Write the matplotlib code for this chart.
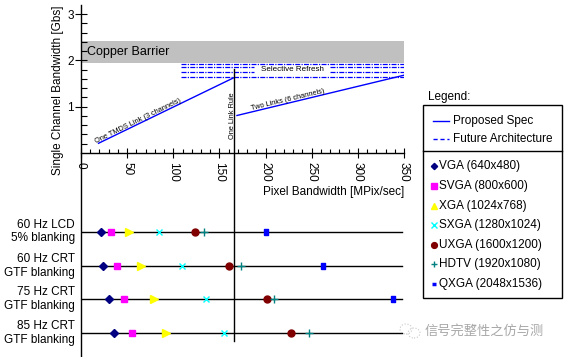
import numpy as np
import matplotlib
matplotlib.use("Agg")
import matplotlib.pyplot as plt
from matplotlib.lines import Line2D
from matplotlib.patches import Rectangle, Ellipse

plt.rcParams['font.family'] = ['Liberation Sans', 'DejaVu Sans']

# Datos del panel superior
tmds_x = [19, 166]
tmds_y = [0.21, 1.63]
two_links_x = [169, 350]
two_links_y = [0.81, 1.68]
copper_lo, copper_hi = 1.95, 2.42
refresh_y = [1.93, 1.85, 1.75, 1.64]
refresh_x0 = 108
refresh_gap = (188, 270)
link_rule_x = 165.5
link_rule_top = 1.81

# Datos del panel inferior (MPix/sec)
rows = ["60 Hz LCD\n5% blanking", "60 Hz CRT\nGTF blanking",
        "75 Hz CRT\nGTF blanking", "85 Hz CRT\nGTF blanking"]
row_y = [-1.70, -2.44, -3.15, -3.89]
formats = ["VGA (640x480)", "SVGA (800x600)", "XGA (1024x768)", "SXGA (1280x1024)",
           "UXGA (1600x1200)", "HDTV (1920x1080)", "QXGA (2048x1536)"]
vga  = [22.0, 23.5, 30.3, 35.8]
svga = [32.9, 39.3, 46.9, 55.6]
xga  = [52.3, 64.7, 78.8, 91.7]
sxga = [84.9, 109.1, 135.8, 155.3]
uxga = [123.5, 160.0, 201.5, 227.5]
hdtv = [133.6, 173.3, 209.4, 246.7]
qxga = [200.8, 262.5, 338.4, np.nan]

qx_marker = [(-1.5, -2.2), (1.5, -2.2), (1.5, 2.2), (-1.5, 2.2), (-1.5, -2.2)]
estilos = [
    dict(marker="D", color="#000080", ms=4.0),
    dict(marker="s", color="#ff00ff", ms=5.0),
    dict(marker=">", color="#ffff00", ms=5.5),
    dict(marker="x", color="#00ffff", ms=4.5, mew=1.0),
    dict(marker="o", color="#800000", ms=5.0),
    dict(marker="+", color="#008080", ms=6, mew=1.0),
    dict(marker=qx_marker, color="#0000ff", ms=4),
]
series = [vga, svga, xga, sxga, uxga, hdtv, qxga]

W, H = 567, 357
fig = plt.figure(figsize=(W / 100, H / 100), dpi=100)
ax = fig.add_axes([81 / W, 0, 323 / W, 1])
ax.set_xlim(0, 350)
ax.set_ylim(-(H - 153) / 46.3, 153 / 46.3)

for s in ["top", "right"]:
    ax.spines[s].set_visible(False)
ax.spines["bottom"].set_position(("data", 0))
ax.spines["left"].set_bounds(-4.6, 3.2)
ax.spines["left"].set_linewidth(1.0)
ax.spines["bottom"].set_linewidth(1.0)

ax.set_xticks(np.arange(0, 351, 50))
ax.set_xticks(np.arange(0, 351, 10), minor=True)
ax.set_yticks([1, 2, 3])
ax.set_yticks([0.2, 0.4, 0.6, 0.8, 1.2, 1.4, 1.6, 1.8, 2.2, 2.4, 2.6, 2.8], minor=True)
ax.tick_params(axis="x", which="major", direction="inout", length=7, width=0.8,
               labelsize=8.5, labelrotation=-90, pad=3)
ax.tick_params(axis="x", which="minor", direction="in", length=3, width=0.8)
ax.tick_params(axis="y", which="major", direction="inout", length=8, width=0.8,
               labelsize=8.5, pad=1)
ax.tick_params(axis="y", which="minor", direction="in", length=4, width=0.8)

# Panel superior
ax.add_patch(Rectangle((0, copper_lo), 350, copper_hi - copper_lo,
                       facecolor="#c0c0c0", edgecolor="none", zorder=0))
ax.text(6.5, 2.19, "Copper Barrier", fontsize=9, va="center", ha="left")

for i, y in enumerate(refresh_y):
    if i in (1, 2):
        ax.plot([refresh_x0, refresh_gap[0]], [y, y], color="#0000ff", lw=0.9, ls=(0, (4, 1, 1, 1)))
        ax.plot([refresh_gap[1], 350], [y, y], color="#0000ff", lw=0.9, ls=(0, (4, 1, 1, 1)))
    else:
        ax.plot([refresh_x0, 350], [y, y], color="#0000ff", lw=0.9, ls=(0, (4, 1, 1, 1)))
ax.text(229.5, 1.80, "Selective Refresh", fontsize=5.8, ha="center", va="center")

ax.plot(tmds_x, tmds_y, color="#0000ff", lw=1.0)
ax.plot(two_links_x, two_links_y, color="#0000ff", lw=1.0)
ax.text(62, 0.68, "One TMDS Link (3 channels)", fontsize=5.3, rotation=26,
        ha="center", va="center", rotation_mode="anchor")
ax.text(224, 1.14, "Two Links (6 channels)", fontsize=5.3, rotation=13.4,
        ha="center", va="center", rotation_mode="anchor")

ax.plot([link_rule_x, link_rule_x], [link_rule_top, -4.05], color="black", lw=1.0,
        clip_on=False)
ax.text(link_rule_x - 1.5, 0.80, "One Link Rule", fontsize=5.3, rotation=90,
        ha="center", va="center")

ax.text(350, -0.835, "Pixel Bandwidth [MPix/sec]", fontsize=8.5, ha="right", va="center")
ax.text(-24.9, 1.36, "Single Channel Bandwidth [Gbs]", fontsize=8.5, rotation=90,
        ha="center", va="center")

# Panel inferior
for lbl, y in zip(rows, row_y):
    ax.plot([0, 348], [y, y], color="black", lw=1.0, zorder=1)
    ax.text(-6.5, y, lbl, fontsize=8.5, ha="right", va="center", linespacing=1.15,
            clip_on=False)

for vals, st in zip(series, estilos):
    ax.plot(vals, row_y, ls="none", zorder=3, **st)

# Leyenda (pixeles de la figura)
def fx(px):
    return px / W

def fy(py):
    return 1 - py / H

fig.text(fx(428), fy(97), "Legend:", fontsize=8.5, va="center", ha="left")
fig.add_artist(Rectangle((fx(423), fy(298.3)), (561.7 - 423) / W, (298.3 - 105) / H,
                         transform=fig.transFigure, facecolor="none",
                         edgecolor="black", lw=1.0))
fig.add_artist(Line2D([fx(423), fx(561.7)], [fy(150.7), fy(150.7)], color="black", lw=1.0))
fig.add_artist(Line2D([fx(432.7), fx(449.3)], [fy(120.7), fy(120.7)], color="#0000ff", lw=1.0))
fig.text(fx(453.3), fy(120.7), "Proposed Spec", fontsize=8.5, va="center")
fig.add_artist(Line2D([fx(432.7), fx(449.3)], [fy(139.3), fy(139.3)], color="#0000ff",
                      lw=1.0, ls=(0, (3, 2))))
fig.text(fx(453.3), fy(139.3), "Future Architecture", fontsize=8.5, va="center")

leg_y = [166, 186, 206, 225.3, 245, 264.3, 284.3]
leg_markers = ["D", "s", "^", "x", "o", "+", "_"]
leg_ms = [3.2, 4.2, 4.5, 4.0, 4.2, 5.0, 3.5]
for name, st, mk, ms, py in zip(formats, estilos, leg_markers, leg_ms, leg_y):
    kw = dict(st)
    kw["marker"] = mk
    kw["ms"] = ms
    if mk == "_":
        kw["mew"] = 2.5
    fig.add_artist(Line2D([fx(433.5)], [fy(py)], ls="none", **kw))
    fig.text(fx(439.3), fy(py), name, fontsize=8.5, va="center")

# Marca de agua
for cx, cy, w, h in [(406, 329, 12, 10), (414, 333, 12, 10)]:
    fig.add_artist(Ellipse((fx(cx), fy(cy)), w / W, h / H, transform=fig.transFigure,
                           facecolor="none", edgecolor="#c8c8c8", lw=0.8, ls=":"))
fig.text(fx(425), fy(331.7), "信号完整性之仿与测", fontsize=9.5, color="#a8a8a8",
         va="center", ha="left", family=["Noto Sans CJK SC", "DejaVu Sans"])

fig.savefig("out.png", dpi=100)
